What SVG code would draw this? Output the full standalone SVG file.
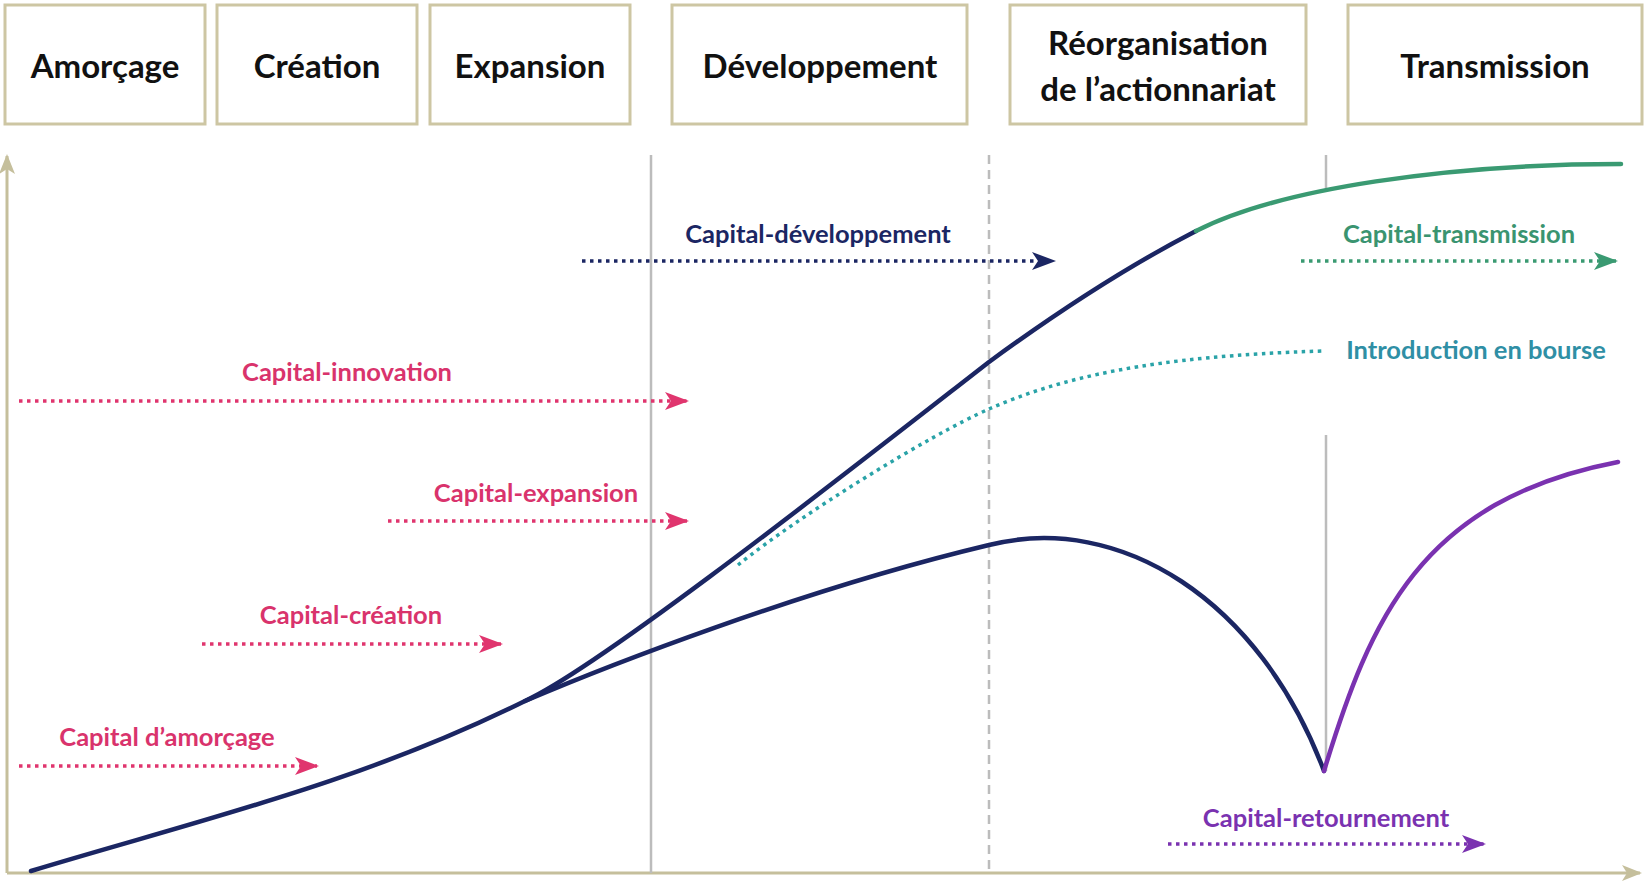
<svg xmlns="http://www.w3.org/2000/svg" width="1645" height="885" viewBox="0 0 1645 885">
<style>
.box{fill:#fff;stroke:#cdc6a3;stroke-width:3}
.hdr{font-family:Lato,"Open Sans","DejaVu Sans",sans-serif;font-weight:700;font-size:33px;fill:#111;text-anchor:middle}
.lbl{font-family:Lato,"Open Sans","DejaVu Sans",sans-serif;font-weight:700;font-size:25.5px;text-anchor:middle}
.axis{stroke:#c5bf9c;stroke-width:3;fill:none}
.vline{stroke:#bcbcbc;stroke-width:2.5;fill:none}
.curve{fill:none;stroke-width:4.5;stroke-linecap:round}
.dot{fill:none;stroke-width:3.5;stroke-dasharray:3.5 4.5}
</style>
<defs>
<marker id="axArrow" markerUnits="userSpaceOnUse" markerWidth="20" markerHeight="16" refX="18" refY="8" orient="auto"><path d="M0,0 L20,8 L0,16 L5,8 z" fill="#c5bf9c"/></marker>
<marker id="aNavy" markerUnits="userSpaceOnUse" markerWidth="24" markerHeight="18" refX="22" refY="9" orient="auto"><path d="M0,0 L24,9 L0,18 L6,9 z" fill="#1b2663"/></marker>
<marker id="aPink" markerUnits="userSpaceOnUse" markerWidth="24" markerHeight="18" refX="22" refY="9" orient="auto"><path d="M0,0 L24,9 L0,18 L6,9 z" fill="#e0356e"/></marker>
<marker id="aGreen" markerUnits="userSpaceOnUse" markerWidth="24" markerHeight="18" refX="22" refY="9" orient="auto"><path d="M0,0 L24,9 L0,18 L6,9 z" fill="#3a9a72"/></marker>
<marker id="aPurple" markerUnits="userSpaceOnUse" markerWidth="24" markerHeight="18" refX="22" refY="9" orient="auto"><path d="M0,0 L24,9 L0,18 L6,9 z" fill="#7a32b0"/></marker>
</defs>

<g id="stage-amorcage"><rect class="box" x="5" y="5" width="200" height="119"/><text class="hdr" x="105" y="78">Amorçage</text></g>
<g id="stage-creation"><rect class="box" x="217" y="5" width="200" height="119"/><text class="hdr" x="317" y="78">Création</text></g>
<g id="stage-expansion"><rect class="box" x="430" y="5" width="200" height="119"/><text class="hdr" x="530" y="78">Expansion</text></g>
<g id="stage-developpement"><rect class="box" x="672" y="5" width="295" height="119"/><text class="hdr" x="820" y="78">Développement</text></g>
<g id="stage-reorganisation"><rect class="box" x="1010" y="5" width="296" height="119"/><text class="hdr" x="1158" y="55">Réorganisation</text><text class="hdr" x="1158" y="101">de l’actionnariat</text></g>
<g id="stage-transmission"><rect class="box" x="1348" y="5" width="294" height="119"/><text class="hdr" x="1495" y="78">Transmission</text></g>

<g id="axes">
<line class="axis" x1="7" y1="873" x2="7" y2="156" marker-end="url(#axArrow)"/>
<line class="axis" x1="7" y1="873" x2="1640" y2="873" marker-end="url(#axArrow)"/>
</g>

<g id="gridlines">
<line class="vline" x1="651" y1="155" x2="651" y2="873"/>
<line class="vline" x1="989" y1="155" x2="989" y2="873" stroke-dasharray="9 6"/>
<line class="vline" x1="1326" y1="155" x2="1326" y2="190"/>
<line class="vline" x1="1326" y1="435" x2="1326" y2="771"/>
</g>

<g id="curves">
<path class="curve" stroke="#1b2663" d="M31,871 C196,821 360,783 525,701 C600,667 850,470 989,362 C1060,310 1130,265 1196,231"/>
<path class="curve" stroke="#3a9a72" d="M1196,231 C1280,188 1450,164 1621,164"/>
<path class="curve" stroke="#1b2663" d="M525,701 C600,669 800,590 989,545 C1120,512 1260,600 1324,771"/>
<path class="curve" stroke="#7a32b0" d="M1324,771 C1370,620 1420,500 1618,462"/>
<path class="dot" stroke="#2aa3a8" d="M738,565 C800,515 930,435 989,409 C1060,378 1150,356 1324,351"/>
</g>

<g id="connectors">
<line class="dot" stroke="#1b2663" x1="582" y1="261" x2="1054" y2="261" marker-end="url(#aNavy)"/>
<line class="dot" stroke="#3a9a72" x1="1301" y1="261" x2="1616" y2="261" marker-end="url(#aGreen)"/>
<line class="dot" stroke="#e0356e" x1="19" y1="401" x2="687" y2="401" marker-end="url(#aPink)"/>
<line class="dot" stroke="#e0356e" x1="388" y1="521" x2="687" y2="521" marker-end="url(#aPink)"/>
<line class="dot" stroke="#e0356e" x1="202" y1="644" x2="501" y2="644" marker-end="url(#aPink)"/>
<line class="dot" stroke="#e0356e" x1="19" y1="766" x2="317" y2="766" marker-end="url(#aPink)"/>
<line class="dot" stroke="#7a32b0" x1="1168" y1="844" x2="1484" y2="844" marker-end="url(#aPurple)"/>
</g>

<g id="labels">
<text class="lbl" fill="#1b2663" x="818" y="243">Capital-développement</text>
<text class="lbl" fill="#3a9470" x="1459" y="243">Capital-transmission</text>
<text class="lbl" fill="#2f8fa5" x="1476" y="359">Introduction en bourse</text>
<text class="lbl" fill="#d9336c" x="347" y="381">Capital-innovation</text>
<text class="lbl" fill="#d9336c" x="536" y="502">Capital-expansion</text>
<text class="lbl" fill="#d9336c" x="351" y="624">Capital-création</text>
<text class="lbl" fill="#d9336c" x="167" y="746">Capital d’amorçage</text>
<text class="lbl" fill="#7a32b0" x="1326" y="827">Capital-retournement</text>
</g>
</svg>
